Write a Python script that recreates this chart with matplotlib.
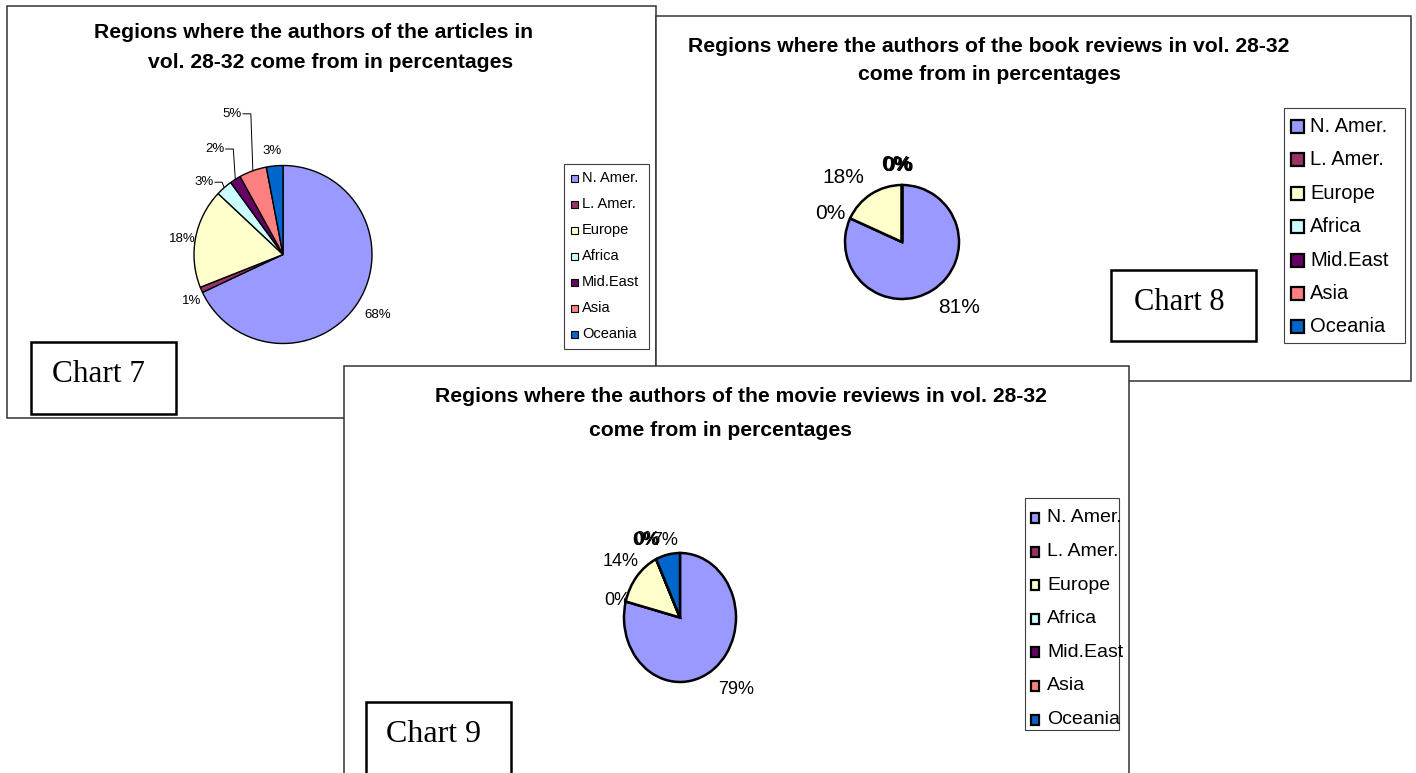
import numpy as np
import matplotlib
matplotlib.use("Agg")
import matplotlib.pyplot as plt
from matplotlib.patches import Rectangle

matplotlib.rcParams['font.family'] = ['Liberation Sans', 'DejaVu Sans']

W, H = 1416, 773

# data (percent of authors per region)
regions = ["N. Amer.", "L. Amer.", "Europe", "Africa", "Mid.East", "Asia", "Oceania"]
colors = ["#9999FF", "#993366", "#FFFFCC", "#CCFFFF", "#660066", "#FF8080", "#0066CC"]

articles = [68, 1, 18, 3, 2, 5, 3]
book_reviews = [81, 0, 18, 0, 0, 0, 0]
movie_reviews = [79, 0, 14, 0, 0, 0, 7]

title7 = ["Regions where the authors of the articles in",
          "vol. 28-32 come from in percentages"]
title8 = ["Regions where the authors of the book reviews in vol. 28-32",
          "come from in percentages"]
title9 = ["Regions where the authors of the movie reviews in vol. 28-32",
          "come from in percentages"]


def px_rect(x0, y0, x1, y1):
    return [x0 / W, 1 - y1 / H, (x1 - x0) / W, (y1 - y0) / H]


def frame(bg, x0, y0, x1, y1, lw, color, z):
    bg.add_patch(Rectangle((x0, y0), x1 - x0, y1 - y0, facecolor="white",
                           edgecolor=color, lw=lw, zorder=z))


def draw_pie(fig, bg, values, cx, cy, rx, ry, lw, fs, dists, shifts):
    ax = fig.add_axes(px_rect(cx - rx, cy - ry, cx + rx, cy + ry))
    wedges, _ = ax.pie(values, colors=colors, startangle=90, counterclock=False,
                       wedgeprops=dict(edgecolor="black", linewidth=lw, clip_on=False))
    ax.set_xlim(-1, 1)
    ax.set_ylim(-1, 1)
    ax.set_aspect("auto")
    ax.axis("off")
    texts = []
    mids = []
    for w, v, d, s in zip(wedges, values, dists, shifts):
        mid = np.deg2rad((w.theta1 + w.theta2) / 2)
        mids.append(mid)
        a = mid + np.deg2rad(s)
        x = cx + rx * d * np.cos(a)
        y = cy - ry * d * np.sin(a)
        texts.append(bg.text(x, y, f"{v:.0f}%", fontsize=fs, ha="center",
                             va="center", zorder=8))
    return texts, mids


def legend(bg, box, y_first, step, mx, msize, tx, fs, mlw):
    x0, y0, x1, y1 = box
    bg.add_patch(Rectangle((x0, y0), x1 - x0, y1 - y0, facecolor="white",
                           edgecolor="#404040", lw=0.8, zorder=5))
    for i, (name, c) in enumerate(zip(regions, colors)):
        y = y_first + i * step
        bg.add_patch(Rectangle((mx, y - msize[1] / 2), msize[0], msize[1],
                               facecolor=c, edgecolor="black", lw=mlw, zorder=6))
        bg.text(tx, y, name, fontsize=fs, ha="left", va="center", zorder=7)


def tag(bg, box, text, fs, tx, ty):
    x0, y0, x1, y1 = box
    bg.add_patch(Rectangle((x0, y0), x1 - x0, y1 - y0, facecolor="white",
                           edgecolor="black", lw=1.8, zorder=5))
    bg.text(tx, ty, text, fontsize=fs, family="Liberation Serif",
            ha="center", va="center", zorder=6)


fig = plt.figure(figsize=(W / 100, H / 100), dpi=100)
bg = fig.add_axes([0, 0, 1, 1])
bg.set_xlim(0, W)
bg.set_ylim(H, 0)
bg.axis("off")

# chart frames, later ones lie on top
frame(bg, 7, 6, 656, 418, 1.1, "#333333", 1)
frame(bg, 656, 16, 1411, 381, 1.1, "#333333", 2)
frame(bg, 344, 366, 1129, H + 10, 1.1, "#333333", 3)

tfs = 15.2
bg.text(313, 32, title7[0], fontsize=tfs, weight="bold", ha="center", va="center", zorder=6)
bg.text(331, 62, title7[1], fontsize=tfs, weight="bold", ha="center", va="center", zorder=6)
bg.text(989, 47, title8[0], fontsize=tfs, weight="bold", ha="center", va="center", zorder=6)
bg.text(989, 75, title8[1], fontsize=tfs, weight="bold", ha="center", va="center", zorder=6)
bg.text(741, 397, title9[0], fontsize=tfs, weight="bold", ha="center", va="center", zorder=6)
bg.text(720, 430, title9[1], fontsize=tfs, weight="bold", ha="center", va="center", zorder=6)

# Chart 7
cx7, cy7, r7 = 283, 254.5, 89
t7, m7 = draw_pie(fig, bg, articles, cx7, cy7, r7, r7, 1.0, 9.5,
                  [1.26, 1.15, 1.14, 1.2, 1.41, 1.68, 1.17],
                  [0, 3.7, 2, 6, 0.4, 0, 0.7])
renderer = fig.canvas.get_renderer()
for i in [3, 4, 5]:
    bb = t7[i].get_window_extent(renderer)
    lx, ly = t7[i].get_position()
    ex = cx7 + r7 * np.cos(m7[i])
    ey = cy7 - r7 * np.sin(m7[i])
    right = lx + bb.width / 2 + 1
    bg.plot([right, ex - 2, ex], [ly, ly, ey], color="black", lw=0.7, zorder=7)
legend(bg, (564, 164, 649, 349), 178, 26, 571, (7, 7), 582, 10.5, 0.8)
tag(bg, (31, 342, 176, 414), "Chart 7", 22.5, 98, 374)

# Chart 8
draw_pie(fig, bg, book_reviews, 902, 242, 57, 57, 1.8, 15,
         [1.52, 1.36, 1.54, 1.35, 1.35, 1.36, 1.34],
         [8.5, 2.6, 9.5, 3.0, 3.7, 4.4, 3.7])
legend(bg, (1284, 108, 1405, 343), 126.5, 33.4, 1291, (13, 13), 1310, 14.5, 1.6)
tag(bg, (1111, 270, 1256, 341), "Chart 8", 22, 1179, 303)

# Chart 9
draw_pie(fig, bg, movie_reviews, 680, 617.5, 56, 64.5, 1.8, 13,
         [1.5, 1.14, 1.37, 1.34, 1.34, 1.35, 1.23],
         [3.9, 1.4, 0, 0.8, 1.4, 2.0, 0])
legend(bg, (1025, 498, 1119, 730), 518, 33.6, 1031, (8, 10), 1047, 14, 1.6)
tag(bg, (366, 702, 511, H + 10), "Chart 9", 23, 434, 735)

fig.savefig("out.png", dpi=100)
